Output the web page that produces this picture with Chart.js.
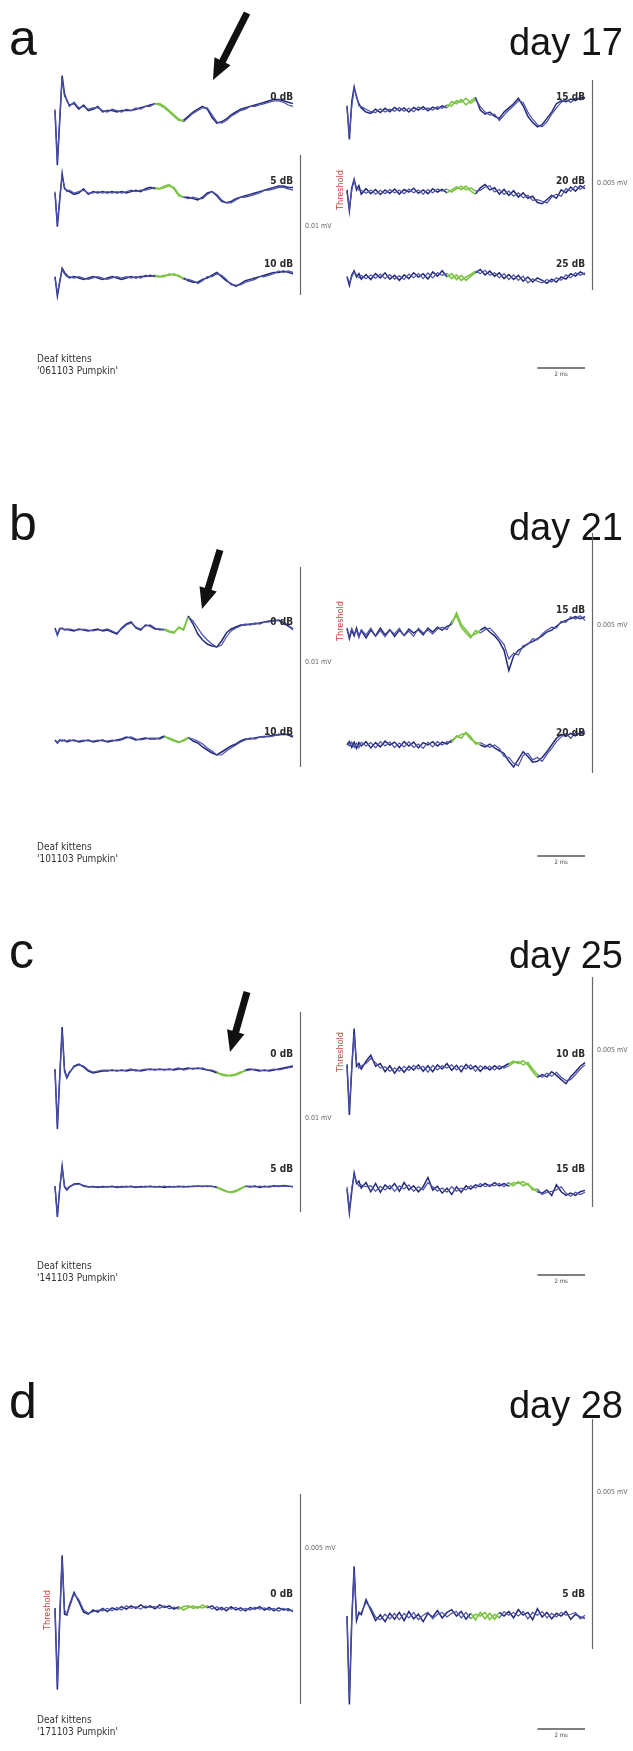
<!DOCTYPE html>
<html>
<head>
<meta charset="utf-8">
<script src="https://cdn.jsdelivr.net/npm/chart.js@4.4.1/dist/chart.umd.min.js"></script>
<style>
  html, body { margin: 0; padding: 0; background: #fff; }
  #page { position: relative; width: 633px; height: 1751px; overflow: hidden; }
  #page canvas { position: absolute; left: 0; }
</style>
</head>
<body>
<div id="page"></div>
<script>
// time base of every trace (ms)
const T = [0,0.1,0.2,0.3,0.4,0.5,0.6, 0.8,1,1.2,1.4,1.6,1.8,2, 2.2,2.4,2.6,2.8,3,3.2,3.4,3.6,3.8,4, 4.2,4.4,4.6,4.8,5,5.2,5.4,5.6,5.8,6, 6.2,6.4,6.6,6.8,7,7.2,7.4,7.6,7.8,8, 8.2,8.4,8.6,8.8,9,9.2,9.4,9.6,9.8,10];

const letters = ['a', 'b', 'c', 'd'];
const days = ['day 17', 'day 21', 'day 25', 'day 28'];
const recordings = ["'061103 Pumpkin'", "'101103 Pumpkin'", "'141103 Pumpkin'", "'171103 Pumpkin'"];

// stimulus levels
const aLeftLevels = ['0 dB', '5 dB', '10 dB'];
const aRightLevels = ['15 dB', '20 dB', '25 dB'];
const bLeftLevels = ['0 dB', '10 dB'];
const bRightLevels = ['15 dB', '20 dB'];
const cLeftLevels = ['0 dB', '5 dB'];
const cRightLevels = ['10 dB', '15 dB'];
const dLeftLevels = ['0 dB'];
const dRightLevels = ['5 dB'];

// green analysis windows (ms) [left, right]
const aWin = [[4.2, 5.4], [4.2, 5.4]];
const bWin = [[4.6, 5.6], [4.4, 5.6]];
const cWin = [[6.8, 8.0], [6.8, 8.0]];
const dWin = [[5.2, 6.4], [5.2, 6.4]];

// scale bars (µV) and their labels [left, right]
const aBars = [10, 5], bBars = [10, 5], cBars = [10, 5], dBars = [5, 5];
const aBarText = ['0.01 mV', '0.005 mV'], bBarText = ['0.01 mV', '0.005 mV'];
const cBarText = ['0.01 mV', '0.005 mV'], dBarText = ['0.005 mV', '0.005 mV'];

// traces in µV, two replicates each
// day 17
const a0_1 = [0.1,-3.8,-0.6,2.6,1.3,0.8,0.5, 0.6,0.2,0.5,0.1,0.2,0.4,0.0, 0.1,0.1,0.0,0.1,0.1,0.1,0.2,0.3,0.4,0.5, 0.6,0.5,0.3,0.0,-0.3,-0.6,-0.6,-0.3,0.0,0.2, 0.4,0.2,-0.4,-0.8,-0.7,-0.5,-0.2,0.0,0.2,0.3, 0.4,0.5,0.6,0.7,0.8,0.9,0.9,0.8,0.7,0.6];
const a0_2 = [0.2,-3.5,-0.4,2.4,1.1,0.9,0.4, 0.7,0.3,0.4,0.2,0.3,0.3,0.1, 0.0,0.2,0.1,0.0,0.2,0.1,0.3,0.2,0.4,0.4, 0.6,0.6,0.4,0.1,-0.2,-0.5,-0.7,-0.4,-0.1,0.1, 0.3,0.3,-0.2,-0.7,-0.8,-0.6,-0.3,-0.1,0.1,0.2, 0.4,0.4,0.5,0.6,0.7,0.8,0.8,0.7,0.5,0.4];
const a5_1 = [0.0,-2.4,-0.5,1.4,0.3,0.2,0.1, -0.1,0.0,0.3,-0.1,0.1,0.0,0.1, 0.0,0.1,0.0,0.1,0.0,0.1,0.2,0.1,0.3,0.4, 0.3,0.3,0.5,0.6,0.3,-0.2,-0.3,-0.3,-0.4,-0.5, -0.3,0.0,0.1,-0.2,-0.6,-0.7,-0.6,-0.4,-0.3,-0.2, -0.1,0.0,0.1,0.2,0.3,0.4,0.5,0.5,0.4,0.4];
const a5_2 = [0.1,-2.2,-0.3,1.2,0.4,0.1,0.2, 0.0,0.1,0.2,0.0,0.0,0.1,0.0, 0.1,0.0,0.1,0.0,0.1,0.2,0.1,0.2,0.2,0.3, 0.4,0.3,0.4,0.5,0.4,-0.1,-0.3,-0.4,-0.3,-0.4, -0.4,-0.1,0.1,-0.1,-0.5,-0.7,-0.7,-0.5,-0.3,-0.3, -0.2,-0.1,0.0,0.2,0.2,0.3,0.4,0.4,0.3,0.2];
const a10_1 = [0.1,-1.3,-0.3,0.7,0.4,0.2,0.0, 0.1,0.0,-0.1,0.0,0.1,0.0,-0.1, 0.0,0.1,0.0,-0.1,0.0,0.1,0.0,0.1,0.1,0.2, 0.1,0.1,0.2,0.2,0.3,0.1,0.0,-0.2,-0.3,-0.3, -0.1,0.0,0.2,0.4,0.1,-0.2,-0.4,-0.6,-0.4,-0.2, -0.1,0.0,0.1,0.2,0.3,0.4,0.4,0.5,0.4,0.3];
const a10_2 = [0.0,-1.1,-0.2,0.6,0.3,0.1,0.1, 0.0,0.1,0.0,-0.1,0.0,0.1,0.0, -0.1,0.0,0.1,0.0,0.1,0.0,0.1,0.0,0.2,0.1, 0.2,0.1,0.1,0.3,0.2,0.2,-0.1,-0.1,-0.2,-0.4, -0.2,0.1,0.1,0.3,0.2,-0.1,-0.5,-0.5,-0.5,-0.3, -0.2,-0.1,0.1,0.1,0.2,0.3,0.5,0.4,0.5,0.4];
const a15_1 = [0.1,-0.7,0.2,0.55,0.3,0.15,0.05, -0.05,-0.08,0.02,-0.06,0.04,-0.04,0.06, -0.02,0.05,-0.05,0.06,0.0,0.08,-0.02,0.07,0.02,0.1, 0.05,0.2,0.15,0.25,0.12,0.22,0.3,0.0,-0.1,-0.05, -0.15,-0.2,-0.05,0.05,0.15,0.28,0.1,-0.15,-0.3,-0.4, -0.35,-0.2,-0.05,0.15,0.22,0.2,0.26,0.22,0.3,0.28];
const a15_2 = [0.05,-0.6,0.1,0.5,0.35,0.1,0.08, 0.02,-0.04,-0.06,0.03,-0.05,0.02,-0.03, 0.06,-0.03,0.04,-0.04,0.07,0.01,0.05,0.0,0.08,0.04, 0.12,0.1,0.22,0.18,0.28,0.16,0.25,0.08,-0.05,-0.12, -0.1,-0.25,-0.12,0.0,0.1,0.22,0.18,-0.05,-0.22,-0.35, -0.4,-0.28,-0.1,0.05,0.18,0.25,0.18,0.28,0.24,0.3];
const a20_1 = [0.05,-0.45,0.1,0.3,0.05,0.15,-0.05, 0.08,-0.04,0.06,-0.06,0.05,-0.03,0.07, -0.05,0.06,0.0,0.09,-0.03,0.05,-0.04,0.08,0.0,0.06, -0.02,0.05,0.12,0.06,0.14,0.02,-0.05,0.1,0.18,0.05, 0.1,-0.05,0.06,-0.08,0.03,-0.12,-0.02,-0.15,-0.1,-0.25, -0.28,-0.18,-0.08,-0.15,0.05,-0.02,0.12,0.02,0.15,0.08];
const a20_2 = [0.0,-0.4,0.05,0.28,0.1,0.05,0.04, -0.03,0.05,-0.05,0.04,-0.04,0.06,-0.02, 0.04,-0.04,0.07,-0.02,0.05,-0.05,0.06,-0.02,0.07,0.02, 0.07,0.0,0.08,0.14,0.05,0.1,0.02,0.04,0.12,0.15, 0.0,0.06,-0.06,0.02,-0.1,-0.02,-0.14,-0.08,-0.2,-0.18, -0.22,-0.26,-0.12,-0.05,-0.1,0.08,0.02,0.14,0.06,0.16];
const a25_1 = [0.0,-0.2,0.05,0.15,0.0,0.08,-0.05, 0.06,-0.06,0.08,-0.02,0.1,-0.05,0.04, -0.08,0.05,-0.04,0.1,0.0,0.08,-0.05,0.12,0.02,0.15, 0.0,0.08,-0.06,0.04,-0.08,0.02,0.1,0.18,0.05,0.14, 0.02,0.1,-0.04,0.06,-0.06,0.04,-0.1,0.0,-0.12,-0.02, -0.08,-0.15,-0.05,-0.12,0.0,-0.05,0.08,0.02,0.12,0.06];
const a25_2 = [0.02,-0.15,0.0,0.12,0.05,-0.02,0.04, -0.04,0.05,-0.03,0.07,-0.04,0.06,-0.05, 0.03,-0.06,0.07,-0.02,0.08,-0.04,0.1,-0.02,0.1,0.04, 0.08,-0.04,0.05,-0.08,0.0,0.06,0.14,0.08,0.16,0.04, 0.1,-0.02,0.08,-0.06,0.05,-0.08,0.02,-0.14,-0.04,-0.1, -0.14,-0.06,-0.12,-0.02,-0.08,0.05,-0.02,0.1,0.04,0.1];
// day 21
const b0_1 = [0.1,-0.25,0.05,0.1,0.0,0.05,0.0, -0.05,0.05,0.0,-0.05,0.0,0.05,-0.05, 0.0,-0.1,-0.2,0.1,0.3,0.4,0.1,0.0,0.25,0.2, 0.05,0.05,0.0,-0.1,-0.15,0.15,0.0,0.7,0.3,-0.2, -0.5,-0.7,-0.8,-0.85,-0.55,-0.15,0.05,0.15,0.25,0.25, 0.3,0.3,0.35,0.4,0.45,0.45,0.5,0.35,0.2,0.05];
const b0_2 = [0.05,-0.2,0.1,0.05,0.05,0.0,0.05, 0.0,0.0,0.05,0.0,-0.05,0.0,0.0, 0.05,-0.05,-0.15,0.05,0.25,0.35,0.15,0.05,0.2,0.25, 0.1,0.0,0.05,-0.05,-0.1,0.1,0.05,0.65,0.45,0.1, -0.25,-0.5,-0.7,-0.85,-0.75,-0.35,-0.05,0.1,0.2,0.3, 0.25,0.35,0.3,0.4,0.4,0.5,0.45,0.4,0.25,0.0];
const b10_1 = [0.05,-0.1,0.05,0.0,0.05,-0.05,0.0, 0.05,-0.05,0.0,0.05,-0.05,0.0,0.05, -0.05,0.0,0.05,0.1,0.2,0.15,0.05,0.1,0.15,0.1, 0.1,0.15,0.25,0.1,0.0,-0.08,0.05,0.18,0.0,-0.1, -0.3,-0.45,-0.6,-0.7,-0.55,-0.4,-0.25,-0.15,0.0,0.1, 0.1,0.15,0.2,0.2,0.25,0.3,0.3,0.35,0.3,0.2];
const b10_2 = [0.0,-0.05,0.0,0.05,0.0,0.0,0.05, 0.0,0.0,0.05,0.0,0.0,0.05,0.0, 0.0,0.05,0.0,0.05,0.15,0.2,0.1,0.05,0.1,0.15, 0.15,0.1,0.2,0.15,0.05,-0.05,0.0,0.15,0.1,0.0, -0.15,-0.35,-0.5,-0.7,-0.7,-0.5,-0.35,-0.2,-0.05,0.05, 0.15,0.1,0.2,0.25,0.2,0.25,0.35,0.3,0.35,0.25];
const b15_1 = [0.1,-0.12,0.06,-0.06,0.1,-0.07,0.05, -0.1,0.06,-0.06,0.1,-0.04,0.07,-0.07, 0.06,-0.05,0.08,0.0,0.07,-0.04,0.1,0.02,0.12,0.06, 0.14,0.18,0.42,0.18,0.06,-0.06,-0.02,0.06,0.12,0.02, -0.06,-0.18,-0.36,-0.78,-0.48,-0.36,-0.3,-0.22,-0.18,-0.12, -0.06,0.02,0.06,0.14,0.22,0.26,0.3,0.34,0.3,0.34];
const b15_2 = [0.06,-0.07,0.1,-0.02,0.05,-0.1,0.07, -0.04,0.1,-0.07,0.05,-0.08,0.06,-0.02, 0.1,-0.06,0.04,-0.07,0.1,0.0,0.06,-0.02,0.08,0.12, 0.07,0.24,0.36,0.12,0.0,-0.1,0.05,0.0,0.07,0.1, 0.0,-0.12,-0.24,-0.54,-0.42,-0.46,-0.26,-0.24,-0.12,-0.14, -0.02,0.06,0.12,0.1,0.24,0.22,0.34,0.29,0.36,0.26];
const b20_1 = [0.0,0.07,-0.05,0.06,-0.07,0.05,-0.02, 0.07,-0.06,0.05,-0.04,0.08,0.0,0.06, -0.05,0.07,-0.02,0.06,-0.06,0.05,0.0,0.07,-0.02,0.06, 0.02,0.1,0.16,0.22,0.24,0.12,0.06,0.0,-0.04,0.02, -0.06,-0.12,-0.18,-0.34,-0.46,-0.3,-0.14,-0.24,-0.36,-0.34, -0.26,-0.14,0.0,0.14,0.22,0.18,0.24,0.19,0.26,0.24];
const b20_2 = [0.05,-0.02,0.06,-0.05,0.04,-0.06,0.06, -0.02,0.05,-0.06,0.07,-0.02,0.06,-0.05, 0.04,-0.04,0.07,-0.05,0.02,-0.07,0.06,-0.04,0.07,0.0, 0.07,0.05,0.19,0.14,0.26,0.17,0.02,0.05,0.0,-0.05, 0.0,-0.07,-0.24,-0.26,-0.38,-0.43,-0.22,-0.17,-0.31,-0.26, -0.34,-0.19,-0.07,0.07,0.17,0.24,0.14,0.26,0.22,0.29];
// day 25
const c0_1 = [0.1,-2.9,-0.3,2.2,0.0,-0.35,-0.1, 0.25,0.35,0.2,0.0,-0.1,-0.05,0.0, 0.0,0.05,0.0,0.05,0.0,0.05,0.05,0.0,0.05,0.1, 0.05,0.1,0.05,0.1,0.05,0.1,0.1,0.15,0.1,0.15, 0.1,0.05,0.0,-0.1,-0.15,-0.2,-0.25,-0.2,-0.1,0.05, 0.1,0.05,0.0,0.05,0.0,0.05,0.1,0.15,0.2,0.25];
const c0_2 = [0.05,-2.7,-0.2,2.0,0.1,-0.3,-0.05, 0.2,0.3,0.25,0.05,-0.05,0.0,0.05, 0.05,0.0,0.05,0.0,0.05,0.1,0.0,0.05,0.1,0.05, 0.1,0.05,0.1,0.05,0.1,0.15,0.05,0.1,0.15,0.1, 0.15,0.05,0.05,-0.05,-0.2,-0.25,-0.2,-0.15,-0.05,0.0, 0.05,0.1,0.05,0.0,0.05,0.1,0.05,0.1,0.15,0.2];
const c5_1 = [0.05,-1.5,-0.1,1.05,0.0,-0.15,0.0, 0.15,0.18,0.05,0.0,0.03,-0.03,0.02, 0.0,0.04,-0.02,0.03,0.0,0.04,-0.02,0.03,0.0,0.04, 0.0,0.03,-0.02,0.03,0.0,0.04,0.0,0.03,0.02,0.05, 0.03,0.05,0.02,0.0,-0.1,-0.2,-0.28,-0.22,-0.1,0.05, 0.0,0.05,-0.02,0.04,0.0,0.06,0.02,0.08,0.04,0.02];
const c5_2 = [0.0,-1.4,0.0,0.95,0.05,-0.1,0.02, 0.12,0.15,0.08,0.02,0.0,0.02,-0.02, 0.03,0.0,0.03,-0.02,0.04,0.0,0.02,-0.02,0.04,0.0, 0.03,0.0,0.04,-0.01,0.03,0.0,0.04,0.0,0.05,0.02, 0.05,0.02,0.04,-0.04,-0.14,-0.24,-0.25,-0.18,-0.06,0.02, 0.04,0.0,0.04,0.0,0.05,0.02,0.06,0.04,0.06,0.0];
const c10_1 = [0.1,-1.0,0.0,0.88,0.06,0.12,0.0, 0.17,0.3,0.06,0.12,-0.06,0.07,-0.09, 0.05,-0.07,0.06,-0.02,0.09,-0.05,0.07,-0.06,0.09,0.0, 0.12,-0.03,0.08,-0.06,0.1,0.0,0.07,-0.05,0.06,-0.02, 0.07,0.0,0.06,0.12,0.17,0.12,0.18,0.09,-0.06,-0.18, -0.12,-0.17,-0.06,-0.14,-0.23,-0.32,-0.17,-0.06,0.06,0.14];
const c10_2 = [0.06,-0.88,0.06,0.76,0.14,0.02,0.07, 0.12,0.23,0.14,0.02,0.05,-0.05,0.02, -0.05,0.06,-0.03,0.08,0.0,0.06,-0.07,0.08,-0.02,0.07, 0.02,0.09,-0.02,0.07,0.0,0.09,-0.05,0.07,0.0,0.06, -0.02,0.07,0.02,0.07,0.14,0.16,0.09,0.14,0.0,-0.12, -0.18,-0.09,-0.16,-0.07,-0.18,-0.25,-0.23,-0.12,0.0,0.09];
const c15_1 = [0.0,-0.52,-0.06,0.35,0.12,0.17,0.02, 0.14,-0.06,0.12,-0.07,0.09,0.0,0.12, -0.05,0.14,-0.02,0.07,-0.06,0.05,0.25,-0.02,0.06,-0.09, 0.02,-0.12,0.05,-0.07,0.07,0.0,0.09,0.05,0.12,0.06, 0.14,0.07,0.12,0.06,0.14,0.12,0.16,0.09,0.02,-0.06, -0.09,-0.02,-0.14,0.09,-0.06,-0.14,-0.09,-0.14,-0.06,-0.03];
const c15_2 = [0.05,-0.44,0.02,0.3,0.16,0.06,0.09, 0.05,0.07,-0.05,0.06,-0.02,0.08,-0.05, 0.07,0.0,0.09,-0.05,0.05,-0.02,0.14,0.05,-0.05,0.02, -0.07,0.05,-0.05,0.02,-0.02,0.07,0.02,0.12,0.05,0.09, 0.07,0.12,0.05,0.14,0.07,0.16,0.07,0.12,-0.02,0.0, -0.12,-0.07,-0.05,-0.02,0.05,-0.09,-0.16,-0.07,-0.12,-0.07];
// day 28
const d0_1 = [0.05,-1.9,-0.2,1.3,-0.1,-0.12,0.1, 0.42,0.2,-0.05,-0.1,0.0,-0.05,0.04, -0.04,0.05,0.0,0.08,0.02,0.1,0.04,0.12,0.05,0.1, 0.03,0.12,0.06,0.1,0.02,0.08,0.0,0.06,0.1,0.04, 0.12,0.05,0.1,0.0,0.06,-0.02,0.08,0.0,0.05,-0.02, 0.06,0.02,0.08,0.0,0.06,-0.02,0.05,0.0,0.03,-0.04];
const d0_2 = [0.02,-1.75,-0.1,1.2,0.0,-0.1,0.05, 0.38,0.25,0.0,-0.08,-0.04,0.0,-0.02, 0.04,-0.02,0.06,0.0,0.1,0.04,0.08,0.02,0.1,0.06, 0.08,0.04,0.1,0.03,0.07,0.02,0.08,0.1,0.04,0.08, 0.05,0.1,0.02,0.08,0.0,0.06,0.02,0.06,-0.02,0.04, 0.0,0.06,0.02,0.05,0.0,0.04,-0.03,0.04,-0.02,0.0];
const d5_1 = [0.02,-1.9,-0.1,1.1,-0.08,0.1,0.05, 0.38,0.15,-0.08,0.05,-0.1,0.08,-0.05, 0.1,-0.08,0.12,-0.04,0.06,-0.1,0.08,0.0,0.14,-0.02, 0.1,0.16,0.02,0.12,-0.05,0.08,-0.06,0.1,-0.04,0.08, -0.05,0.1,0.02,0.12,-0.02,0.16,0.04,0.1,-0.06,0.18, 0.0,0.1,-0.04,0.08,0.02,0.12,-0.05,0.06,0.0,-0.03];
const d5_2 = [0.0,-1.75,0.0,1.0,0.0,0.05,0.1, 0.32,0.2,0.0,-0.06,0.06,-0.04,0.08, -0.06,0.08,-0.02,0.1,-0.06,0.04,0.1,-0.04,0.06,0.1, 0.0,0.08,0.12,-0.02,0.1,-0.04,0.06,0.02,0.1,-0.06, 0.06,-0.02,0.12,0.04,0.1,0.02,0.12,-0.04,0.1,0.04, 0.12,-0.02,0.08,0.0,0.1,0.04,0.06,0.1,-0.04,0.04];

const NAVY = '#232a7c', BLUE2 = '#4b50a8', GREEN = '#7cc443';
const PX_PER_MS = 23.8;
const SANS = '"Liberation Sans", Arial, sans-serif';
const NARROW = '"Liberation Sans Narrow", "DejaVu Sans Condensed", "Liberation Sans", sans-serif';

// page layout, absolute y in px
const PANELS = [
  { top: 0, h: 430, titleY: 55, arrow: [247, 13, 213, 80], thr: { x: 341, y: 190 }, foot: 359,
    L: { x0: 55, gain: 14, win: aWin[0], labels: aLeftLevels,
         traces: [[a0_1, a0_2, 112, 97], [a5_1, a5_2, 193, 181], [a10_1, a10_2, 278, 264]],
         bar: { x: 300, bottom: 295, amp: aBars[0], text: aBarText[0], ty: 226 } },
    R: { x0: 347, gain: 42, win: aWin[1], labels: aRightLevels,
         traces: [[a15_1, a15_2, 110, 97], [a20_1, a20_2, 192, 181], [a25_1, a25_2, 277, 264]],
         bar: { x: 592, bottom: 290, amp: aBars[1], text: aBarText[1], ty: 183 } } },
  { top: 430, h: 450, titleY: 540, arrow: [220, 550, 202, 609], thr: { x: 341, y: 621 }, foot: 847,
    L: { x0: 55, gain: 20, win: bWin[0], labels: bLeftLevels,
         traces: [[b0_1, b0_2, 630, 622], [b10_1, b10_2, 741, 732]],
         bar: { x: 300, bottom: 767, amp: bBars[0], text: bBarText[0], ty: 662 } },
    R: { x0: 347, gain: 48, win: bWin[1], labels: bRightLevels,
         traces: [[b15_1, b15_2, 633, 610], [b20_1, b20_2, 745, 733]],
         bar: { x: 592, bottom: 773, amp: bBars[1], text: bBarText[1], ty: 625 } } },
  { top: 880, h: 440, titleY: 968, arrow: [247, 992, 230, 1052], thr: { x: 341, y: 1052 }, foot: 1266,
    L: { x0: 55, gain: 20, win: cWin[0], labels: cLeftLevels,
         traces: [[c0_1, c0_2, 1071, 1054], [c5_1, c5_2, 1187, 1169]],
         bar: { x: 300, bottom: 1212, amp: cBars[0], text: cBarText[0], ty: 1118 } },
    R: { x0: 347, gain: 46, win: cWin[1], labels: cRightLevels,
         traces: [[c10_1, c10_2, 1069, 1054], [c15_1, c15_2, 1189, 1169]],
         bar: { x: 592, bottom: 1207, amp: cBars[1], text: cBarText[1], ty: 1050 } } },
  { top: 1320, h: 431, titleY: 1418, arrow: null, thr: { x: 48, y: 1610 }, foot: 1720,
    L: { x0: 55, gain: 42, win: dWin[0], labels: dLeftLevels,
         traces: [[d0_1, d0_2, 1610, 1594]],
         bar: { x: 300, bottom: 1704, amp: dBars[0], text: dBarText[0], ty: 1548 } },
    R: { x0: 347, gain: 46, win: dWin[1], labels: dRightLevels,
         traces: [[d5_1, d5_2, 1617, 1594]],
         bar: { x: 592, bottom: 1649, amp: dBars[1], text: dBarText[1], ty: 1492 } } }
];

function drawArrow(c, x1, y1, x2, y2) {
  const a = Math.atan2(y2 - y1, x2 - x1), L = 21, W = 9;
  const bx = x2 - L * Math.cos(a), by = y2 - L * Math.sin(a);
  c.strokeStyle = '#111'; c.fillStyle = '#111';
  c.lineWidth = 7; c.lineCap = 'butt';
  c.beginPath(); c.moveTo(x1, y1); c.lineTo(bx + Math.cos(a), by + Math.sin(a)); c.stroke();
  c.beginPath();
  c.moveTo(x2, y2);
  c.lineTo(bx + W * Math.sin(a), by - W * Math.cos(a));
  c.lineTo(bx - W * Math.sin(a), by + W * Math.cos(a));
  c.closePath(); c.fill();
}

function decor(p, idx) {
  return {
    id: 'decor',
    afterDatasetsDraw(chart) {
      const c = chart.ctx;
      const Y = v => v - p.top;
      c.save();
      c.fillStyle = '#151515';
      c.textBaseline = 'alphabetic';
      c.textAlign = 'left';
      c.font = '50px ' + SANS;
      c.fillText(letters[idx], 9, Y(p.titleY));
      c.textAlign = 'right';
      c.font = '38px ' + SANS;
      c.fillText(days[idx], 623, Y(p.titleY));
      if (p.arrow) drawArrow(c, p.arrow[0], Y(p.arrow[1]), p.arrow[2], Y(p.arrow[3]));

      for (const side of ['L', 'R']) {
        const col = p[side];
        const xs = chart.scales['x' + side], ys = chart.scales['y' + side];
        // amplitude bar
        const b0 = -Y(col.bar.bottom) / col.gain;
        const yA = ys.getPixelForValue(b0), yB = ys.getPixelForValue(b0 + col.bar.amp);
        c.strokeStyle = '#666'; c.lineWidth = 1.2;
        c.beginPath(); c.moveTo(col.bar.x + 0.5, yA); c.lineTo(col.bar.x + 0.5, yB); c.stroke();
        c.fillStyle = '#666'; c.font = '7px ' + NARROW;
        c.textAlign = 'left'; c.textBaseline = 'middle';
        c.fillText(col.bar.text, col.bar.x + 5, Y(col.bar.ty));
        // level labels
        c.fillStyle = '#2a2a2a'; c.font = 'bold 10px ' + NARROW; c.textAlign = 'right';
        const xEnd = xs.getPixelForValue(T[T.length - 1]);
        col.traces.forEach((tr, i) => c.fillText(col.labels[i], xEnd, Y(tr[3])));
      }

      // threshold mark
      c.save();
      c.translate(p.thr.x, Y(p.thr.y));
      c.rotate(-Math.PI / 2);
      c.fillStyle = '#c9443a'; c.font = '9px ' + NARROW;
      c.textAlign = 'center'; c.textBaseline = 'middle';
      c.fillText('Threshold', 0, 0);
      c.restore();

      // footer
      c.fillStyle = '#333'; c.font = '10px ' + NARROW;
      c.textAlign = 'left'; c.textBaseline = 'middle';
      c.fillText('Deaf kittens', 37, Y(p.foot));
      c.fillText(recordings[idx], 37, Y(p.foot + 12));
      const xs = chart.scales.xR;
      const x1 = xs.getPixelForValue(8), x2 = xs.getPixelForValue(10);
      c.strokeStyle = '#555'; c.lineWidth = 1.4;
      c.beginPath(); c.moveTo(x1, Y(p.foot + 9)); c.lineTo(x2, Y(p.foot + 9)); c.stroke();
      c.fillStyle = '#444'; c.font = '6px ' + NARROW; c.textAlign = 'center';
      c.fillText('2 ms', (x1 + x2) / 2, Y(p.foot + 15));
      c.restore();
    }
  };
}

function makeSets(p) {
  const sets = [];
  for (const side of ['L', 'R']) {
    const col = p[side];
    const inWin = ctx => T[ctx.p0DataIndex] >= col.win[0] - 1e-6 && T[ctx.p1DataIndex] <= col.win[1] + 1e-6;
    col.traces.forEach(tr => {
      const off = (tr[2] - p.top) / col.gain;
      [[tr[1], BLUE2, 1.2], [tr[0], NAVY, 1.5]].forEach(([vals, color, w]) => {
        sets.push({
          data: T.map((t, k) => ({ x: t, y: vals[k] - off })),
          xAxisID: 'x' + side,
          yAxisID: 'y' + side,
          borderColor: color,
          borderWidth: w,
          pointRadius: 0,
          tension: 0,
          fill: false,
          segment: {
            borderColor: ctx => inWin(ctx) ? GREEN : undefined,
            borderWidth: ctx => inWin(ctx) ? 1.6 : undefined
          }
        });
      });
    });
  }
  return sets;
}

const page = document.getElementById('page');
PANELS.forEach((p, idx) => {
  const cv = document.createElement('canvas');
  cv.width = 633; cv.height = p.h;
  cv.style.top = p.top + 'px';
  cv.style.width = '633px'; cv.style.height = p.h + 'px';
  page.appendChild(cv);

  new Chart(cv, {
    type: 'line',
    data: { datasets: makeSets(p) },
    options: {
      responsive: false,
      animation: false,
      devicePixelRatio: 1,
      events: [],
      layout: { padding: 0 },
      plugins: { legend: { display: false }, tooltip: { enabled: false } },
      scales: {
        xL: { type: 'linear', display: false, min: -p.L.x0 / PX_PER_MS, max: (633 - p.L.x0) / PX_PER_MS },
        xR: { type: 'linear', display: false, min: -p.R.x0 / PX_PER_MS, max: (633 - p.R.x0) / PX_PER_MS },
        yL: { type: 'linear', display: false, min: -p.h / p.L.gain, max: 0 },
        yR: { type: 'linear', display: false, min: -p.h / p.R.gain, max: 0 }
      }
    },
    plugins: [decor(p, idx)]
  });
});
</script>
</body>
</html>
